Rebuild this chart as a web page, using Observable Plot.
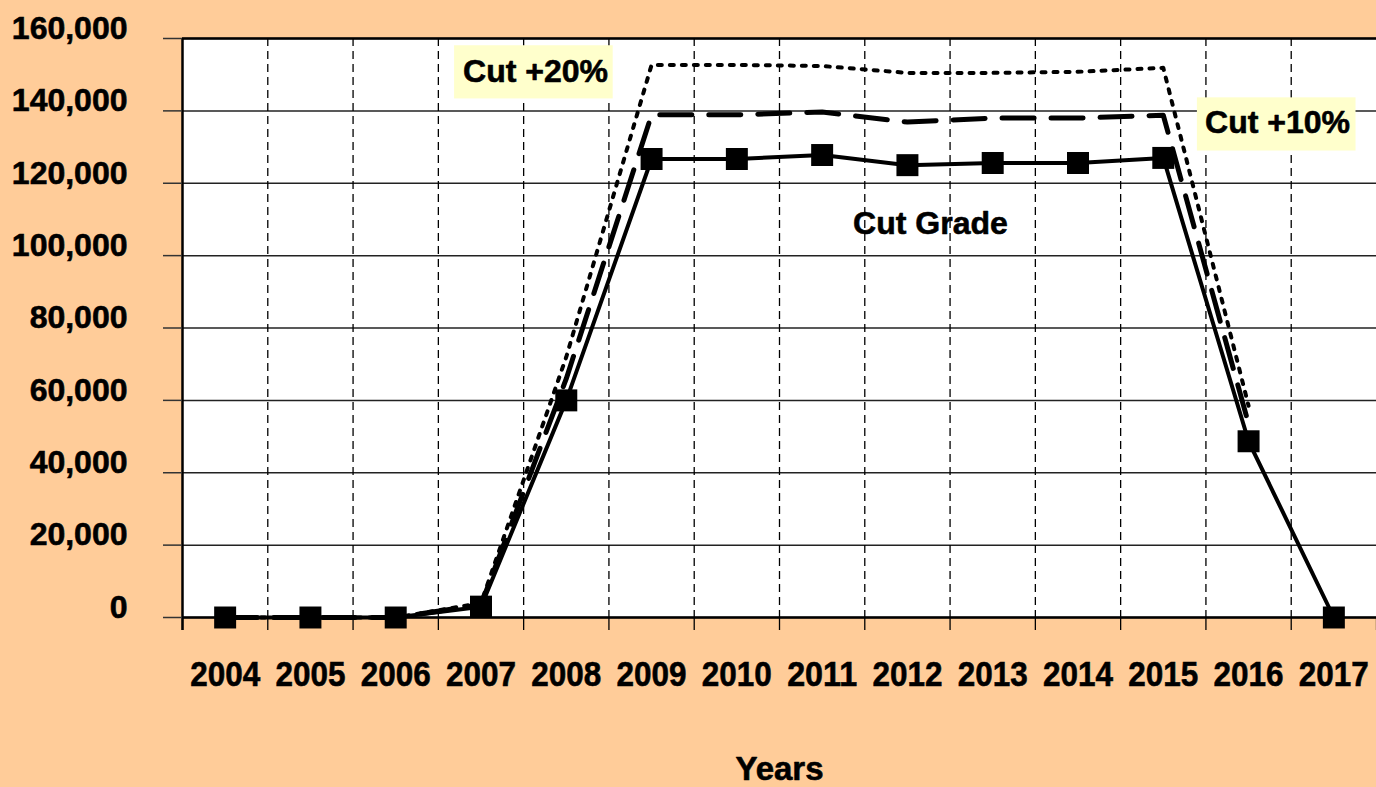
<!DOCTYPE html>
<html><head><meta charset="utf-8">
<script src="https://cdn.jsdelivr.net/npm/d3@7"></script>
<script src="https://cdn.jsdelivr.net/npm/@observablehq/plot@0.6"></script>
<style>
html,body{margin:0;padding:0;background:#FFCC99;overflow:hidden;}
</style></head><body><div id="chart"></div>
<script>
const years = [2004,2005,2006,2007,2008,2009,2010,2011,2012,2013,2014,2015,2016,2017];
const cutGrade = [0,0,0,3000,60000,126700,126700,127800,125000,125600,125600,127000,48700,0];
const cut10 = [0,0,0,3500,66000,138900,138900,139700,136900,138000,138000,138800,53500,null];
const cut20 = [0,0,0,4000,72000,152700,152700,152400,150500,150500,150800,151900,58500,null];
const yTicks = [0,20000,40000,60000,80000,100000,120000,140000,160000];
const annoLabels = ["Cut +20%","Cut +10%","Cut Grade"];
const annoX = [2007.64, 2016.34, 2012.27];
const annoY = [150800, 136600, 108800];
const boxX1 = [2006.69, 2015.40];
const boxX2 = [2008.55, 2017.26];
const boxY1 = [143300, 128900];
const boxY2 = [158000, 143600];

const rows = (vals) => years.map((yr, i) => ({year: yr, v: vals[i]}));
const bounds = [2003.5].concat(years.map(y => y + 0.5));
const innerBounds = years.slice(1).map(y => y - 0.5);
const annos = annoLabels.map((t, i) => ({t, x: annoX[i], y: annoY[i]}));
const boxes = boxX1.map((x1, i) => ({x1, x2: boxX2[i], y1: boxY1[i], y2: boxY2[i]}));
const font = "'Liberation Sans', Arial, sans-serif";

const chart = Plot.plot({
  width: 1376, height: 787,
  marginLeft: 182, marginRight: 0, marginTop: 38, marginBottom: 170,
  style: {fontFamily: font, background: "#FFCC99", color: "black", overflow: "visible"},
  x: {type: "linear", domain: [2003.5, 2017.5], axis: null},
  y: {domain: [0, 160000], axis: null},
  marks: [
    Plot.frame({fill: "white", stroke: "none"}),
    Plot.ruleY(yTicks, {stroke: "#222", strokeWidth: 1.5}),
    Plot.ruleX(innerBounds, {stroke: "#000", strokeWidth: 1.3, strokeDasharray: "8,5"}),
    Plot.rect(boxes, {x1: "x1", x2: "x2", y1: "y1", y2: "y2", fill: "#FFFFCC"}),
    Plot.line(rows(cut20), {x: "year", y: "v", stroke: "black", strokeWidth: 4, strokeDasharray: "4,8"}),
    Plot.line(rows(cut10), {x: "year", y: "v", stroke: "black", strokeWidth: 5, strokeDasharray: "32,17"}),
    Plot.line(rows(cutGrade), {x: "year", y: "v", stroke: "black", strokeWidth: 4}),
    Plot.dot(rows(cutGrade), {x: "year", y: "v", symbol: "square", r: 12.4, fill: "black", stroke: "none"}),
    Plot.text(annos, {x: "x", y: "y", text: "t", fontSize: 32, fontWeight: "bold", fill: "black", lineAnchor: "middle", stroke: "black", strokeWidth: 0.6}),
    Plot.ruleY([160000], {stroke: "black", strokeWidth: 2.5}),
    Plot.ruleY([0], {stroke: "black", strokeWidth: 2.5}),
    Plot.ruleX([2003.5], {stroke: "black", strokeWidth: 2.5, insetBottom: -13}),
    Plot.axisX(bounds, {tickSize: 13, tickFormat: () => "", stroke: "black", strokeWidth: 1.3, label: null}),
    Plot.axisX(years, {tickSize: 0, tickPadding: 44, tickFormat: d => String(d), fontSize: 35, fontWeight: "bold", label: null}),
    Plot.axisY(yTicks, {tickSize: 19, tickFormat: () => "", stroke: "#333", strokeWidth: 1.5, label: null}),
    Plot.axisY(yTicks, {tickSize: 0, tickPadding: 55, tickFormat: d3.format(","), fontSize: 32, fontWeight: "bold", dy: -10, label: null}),
    Plot.text(["Years"], {frameAnchor: "bottom", dy: 152, fontSize: 33, fontWeight: "bold", fill: "black", lineAnchor: "middle", stroke: "black", strokeWidth: 0.6})
  ]
});
document.getElementById("chart").appendChild(chart);
d3.select(chart).selectAll('g[aria-label="x-axis tick label"] text, g[aria-label="y-axis tick label"] text')
  .attr("stroke", "black").attr("stroke-width", 0.6);
d3.select(chart).selectAll('g[aria-label="x-axis tick label"] text')
  .filter(function() { return this.textContent.length > 0; })
  .attr("textLength", 70).attr("lengthAdjust", "spacingAndGlyphs");
</script></body></html>
